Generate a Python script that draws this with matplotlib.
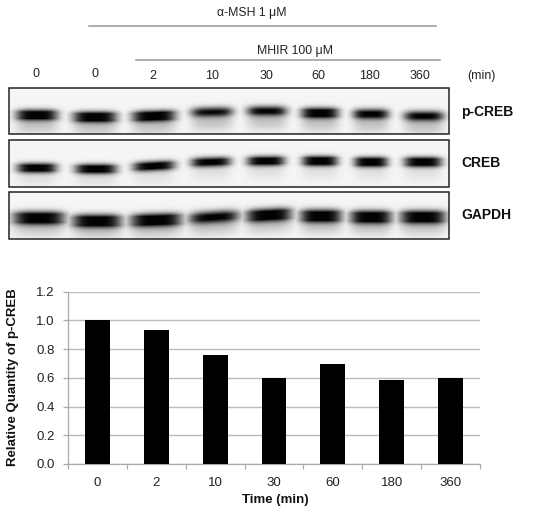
import numpy as np
import matplotlib
matplotlib.use("Agg")
import matplotlib.pyplot as plt
from matplotlib.patches import Rectangle

plt.rcParams["font.family"] = ["Liberation Sans", "DejaVu Sans"]

W, H = 550, 513

# bar chart values
times = ["0", "2", "10", "30", "60", "180", "360"]
pcreb_quantity = [1.005, 0.935, 0.76, 0.60, 0.695, 0.585, 0.595]

# blot lanes in pixels
lane_labels = ["0", "0", "2", "10", "30", "60", "180", "360"]
lane_label_x = [36, 95, 153, 212, 266, 318, 369, 420]
lane_label_y = [74, 74, 76, 76, 76, 76, 76, 76]

pcreb_x = [37, 95, 154, 212, 267, 320, 371, 424]
pcreb_y = [115, 117, 116, 112, 111, 113, 114, 116]
pcreb_hw = [21, 22, 22, 21, 20, 19, 18, 20]
pcreb_dark = [0.95, 1.0, 1.0, 0.62, 0.66, 0.9, 0.72, 0.68]
pcreb_tilt = [0.0, 0.0, -0.03, -0.02, 0.0, 0.0, 0.0, 0.0]

creb_x = [37, 96, 154, 211, 266, 320, 371, 423]
creb_y = [168, 169, 166, 162, 161, 161, 162, 162]
creb_hw = [20, 21, 21, 20, 19, 18, 17, 19]
creb_dark = [0.9, 0.92, 0.85, 0.8, 0.88, 1.0, 1.0, 1.0]
creb_tilt = [0.0, 0.0, -0.05, -0.03, -0.01, 0.0, 0.0, 0.0]

gapdh_x = [39, 97, 156, 214, 269, 321, 371, 423]
gapdh_y = [218, 221, 220, 217, 215, 216, 217, 217]
gapdh_hw = [26, 25, 26, 25, 23, 21, 21, 23]
gapdh_dark = [1.0, 1.0, 1.0, 0.7, 0.95, 1.0, 1.0, 1.0]
gapdh_tilt = [0.0, 0.0, -0.03, -0.06, -0.05, 0.0, 0.0, 0.0]


def blot_image(box, xs, ys, hws, darks, tilts, sy, smear):
    x0, y0, x1, y1 = box
    px, py = np.meshgrid(np.arange(x0, x1) + 0.5, np.arange(y0, y1) + 0.5)
    ink = np.zeros(px.shape)
    for x, y, hw, dark, tilt in zip(xs, ys, hws, darks, tilts):
        across = np.exp(-np.abs((px - x) / hw) ** 4)
        mid = y + tilt * (px - x)
        core = np.exp(-((py - mid) / sy) ** 2)
        # faint smear under each band
        tail = smear * np.exp(-((py - mid - 10) / 9.0) ** 2)
        ink = np.maximum(ink, across * np.clip(1.5 * dark * core + tail, 0, 1))
    return 0.96 - 0.95 * ink


fig = plt.figure(figsize=(W / 100, H / 100), dpi=100)

# overlay in image pixels for the blot part
over = fig.add_axes([0, 0, 1, 1])
over.set_xlim(0, W)
over.set_ylim(H, 0)
over.axis("off")

panels = [
    ((9, 88, 449, 134), pcreb_x, pcreb_y, pcreb_hw, pcreb_dark, pcreb_tilt, 5.0, 0.2),
    ((9, 140, 449, 187), creb_x, creb_y, creb_hw, creb_dark, creb_tilt, 4.6, 0.08),
    ((9, 192, 449, 239), gapdh_x, gapdh_y, gapdh_hw, gapdh_dark, gapdh_tilt, 6.0, 0.18),
]
for box, xs, ys, hws, darks, tilts, sy, smear in panels:
    img = blot_image(box, xs, ys, hws, darks, tilts, sy, smear)
    x0, y0, x1, y1 = box
    over.imshow(img, cmap="gray", vmin=0, vmax=1, extent=(x0, x1, y1, y0),
                aspect="auto", interpolation="bilinear")
    over.add_patch(Rectangle((x0, y0), x1 - x0, y1 - y0, fill=False,
                             edgecolor="#222222", linewidth=1.1))
over.set_xlim(0, W)
over.set_ylim(H, 0)

over.plot([89, 436], [25.5, 25.5], color="#999999", lw=1.1)
over.plot([136, 440], [60, 60], color="#999999", lw=1.1)
over.text(252, 13, "α-MSH 1 μM", ha="center", va="center", fontsize=8.8, color="#222222")
over.text(295, 51, "MHIR 100 μM", ha="center", va="center", fontsize=8.8, color="#222222")
for label, x, y in zip(lane_labels, lane_label_x, lane_label_y):
    over.text(x, y, label, ha="center", va="center", fontsize=9, color="#222222")
over.text(481, 76, "(min)", ha="center", va="center", fontsize=8.8, color="#222222")
for label, y in zip(["p-CREB", "CREB", "GAPDH"], [112, 163, 215]):
    over.text(461, y, label, ha="left", va="center", fontsize=10, fontweight="bold", color="#111111")

# bar chart
ax = fig.add_axes([68 / W, 1 - 464 / H, (480 - 68) / W, (464 - 291.5) / H])
ax.bar(range(len(times)), pcreb_quantity, width=0.42, color="black", zorder=3)
ax.set_xlim(-0.5, len(times) - 0.5)
ax.set_ylim(0, 1.2)
ax.set_yticks([0, 0.2, 0.4, 0.6, 0.8, 1.0, 1.2])
ax.set_yticklabels(["0.0", "0.2", "0.4", "0.6", "0.8", "1.0", "1.2"])
ax.set_xticks(np.arange(-0.5, len(times)), minor=False)
ax.set_xticklabels([])
ax.set_xticks(range(len(times)), labels=times, minor=True)
ax.tick_params(axis="x", which="major", length=3.5, color="#aaaaaa", width=0.9)
ax.tick_params(axis="x", which="minor", length=0, pad=9, labelsize=9.5, labelcolor="#222222")
ax.tick_params(axis="y", length=3.5, color="#aaaaaa", width=0.9, pad=6, labelsize=9.5, labelcolor="#222222")
ax.grid(axis="y", color="#bbbbbb", lw=1.0, zorder=0)
ax.set_axisbelow(True)
for side in ["top", "right"]:
    ax.spines[side].set_visible(False)
for side in ["left", "bottom"]:
    ax.spines[side].set_color("#aaaaaa")
    ax.spines[side].set_linewidth(0.9)

over.text(275, 500, "Time (min)", ha="center", va="center", fontsize=9.5, fontweight="bold", color="#111111")
over.text(13, 377, "Relative Quantity of p-CREB", rotation=90, ha="center", va="center",
          fontsize=9.5, fontweight="bold", color="#111111")

fig.savefig("out.png", dpi=100)
